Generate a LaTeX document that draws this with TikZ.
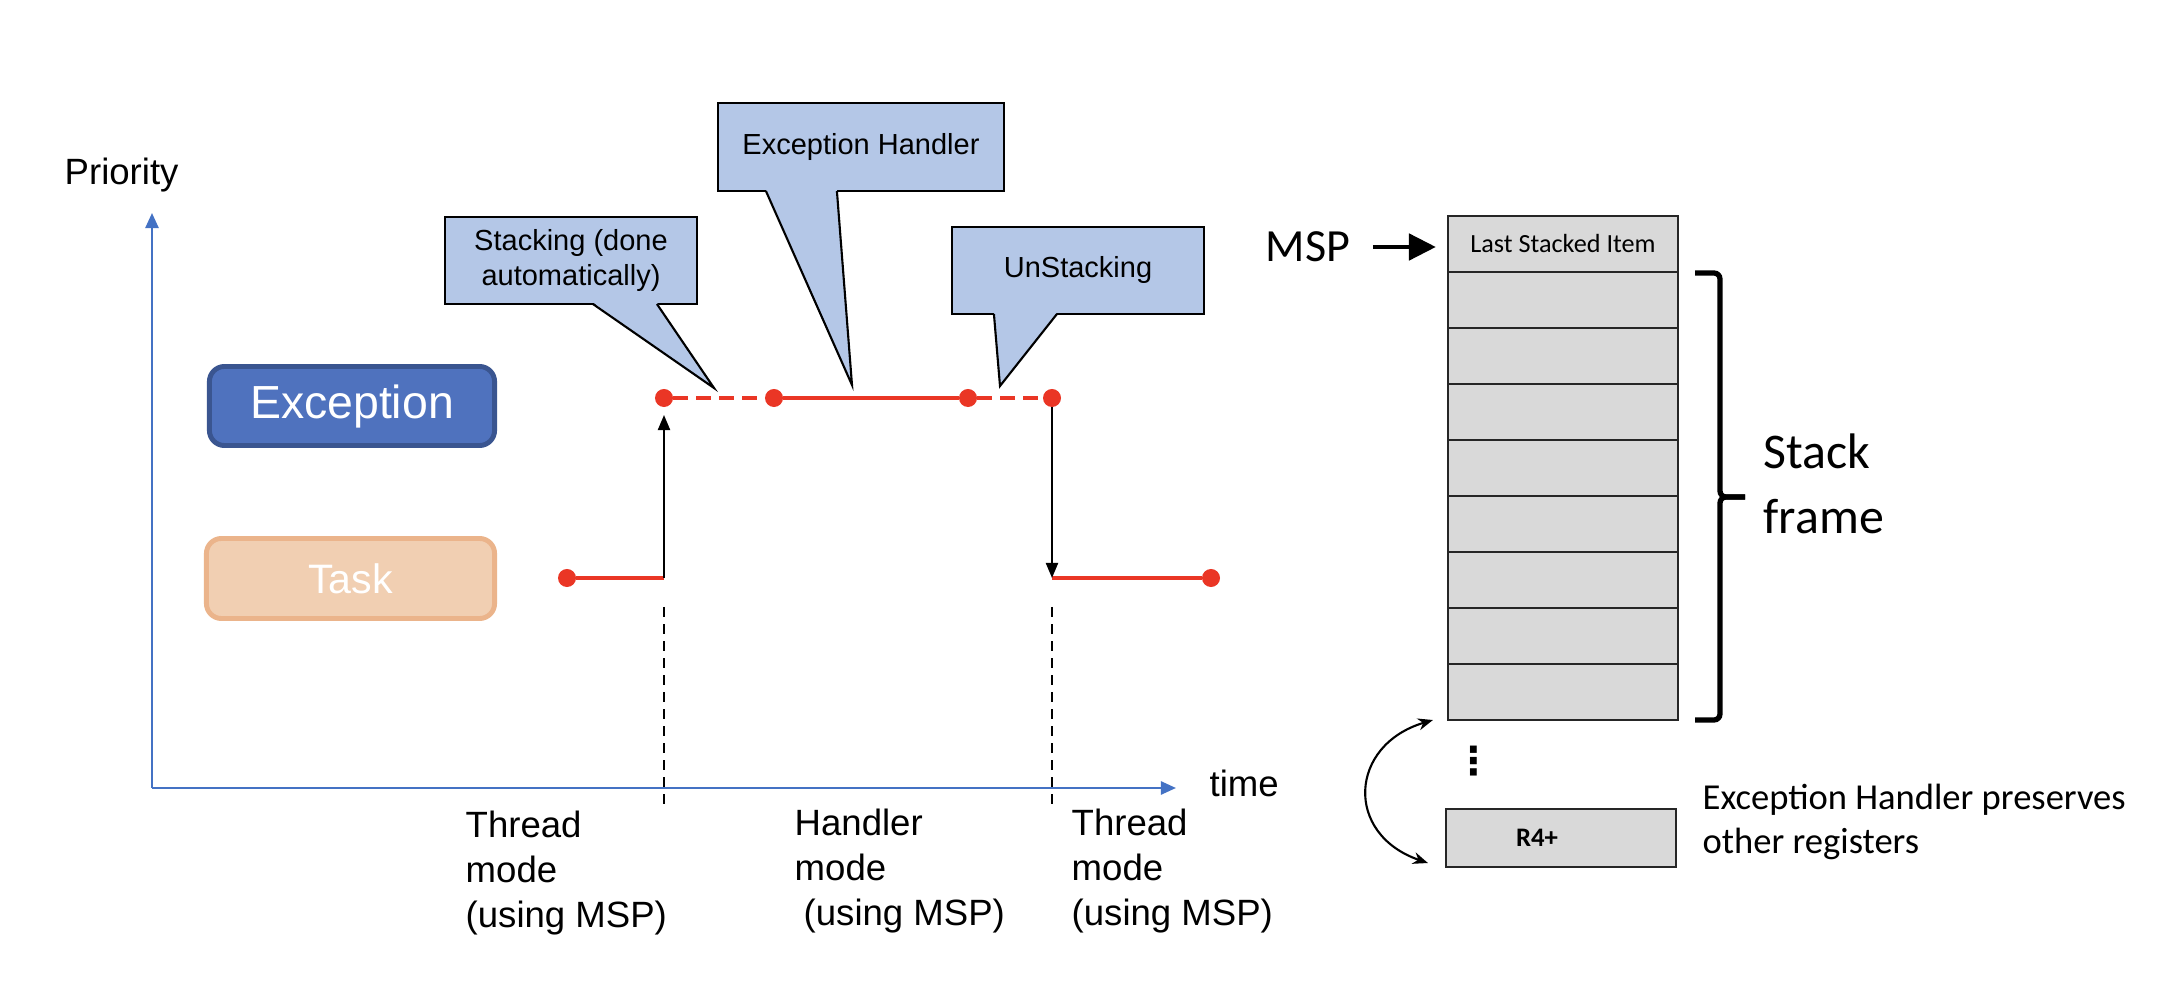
\documentclass[tikz,border=0pt]{standalone}
\usepackage{fontspec}
\setmainfont{Liberation Sans}
\newfontfamily\calibri{Carlito}
\newfontfamily\dejavu{DejaVu Sans}
\usetikzlibrary{arrows.meta,calc}
\definecolor{excblue}{RGB}{79,114,190}
\definecolor{excborder}{RGB}{58,85,144}
\definecolor{taskfill}{RGB}{241,207,178}
\definecolor{taskborder}{RGB}{235,180,139}
\definecolor{calloutblue}{RGB}{180,199,231}
\definecolor{axisblue}{RGB}{68,114,196}
\definecolor{levelred}{RGB}{234,54,37}
\definecolor{cellgray}{RGB}{217,217,217}
\tikzset{
    axisline/.style={draw=axisblue,line width=0.7pt,-{Triangle[length=0.15cm,width=0.13cm]}},
    axistitle/.style={inner sep=0pt,font=\fontsize{10.4}{12.8}\selectfont},
    levelbox/.style={rounded corners=0.15cm,minimum width=2.85cm,minimum height=0.79cm,line width=1.4pt,align=center,text=white,inner sep=0pt},
    excbox/.style={levelbox,fill=excblue,draw=excborder,font=\fontsize{13.2}{15}\selectfont},
    taskbox/.style={levelbox,minimum width=2.88cm,minimum height=0.8cm,fill=taskfill,draw=taskborder,font=\fontsize{11.7}{14}\selectfont},
    reddot/.style={circle,fill=levelred,minimum size=0.18cm,inner sep=0pt,outer sep=0pt},
    redline/.style={draw=levelred,line width=1.4pt},
    reddash/.style={redline,dash pattern=on 0.15cm off 0.08cm},
    switcharrow/.style={draw=black,line width=0.6pt,-{Triangle[length=0.15cm,width=0.12cm]}},
    modeline/.style={draw=black,line width=0.45pt,dash pattern=on 0.1cm off 0.07cm},
    modelabel/.style={align=left,anchor=north west,inner sep=0pt,font=\fontsize{10.4}{12.8}\selectfont},
    callout/.style={draw=black,fill=calloutblue,line width=0.6pt,minimum width=2.52cm,minimum height=0.87cm,inner sep=0pt,outer sep=0pt,align=center,font=\fontsize{8.25}{9.7}\selectfont},
    calloutline/.style={draw=black,line width=0.6pt},
    stackcell/.style={draw=black!85,fill=cellgray,line width=0.6pt,minimum width=2.3cm,minimum height=0.56cm,inner sep=0pt,outer sep=0pt,font=\calibri\fontsize{7.45}{9}\selectfont},
    msparrow/.style={draw=black,line width=1.4pt,-{Triangle[length=0.27cm,width=0.26cm]}},
    stackbrace/.style={draw=black,line width=1.5pt,rounded corners=0.06cm},
    stacktext/.style={align=left,anchor=north west,inner sep=0pt,font=\calibri\fontsize{14.2}{18.5}\selectfont},
    notetext/.style={align=left,anchor=north west,inner sep=0pt,font=\calibri\fontsize{10.4}{12.5}\selectfont},
    savearrow/.style={draw=black,line width=0.6pt,{Stealth[length=0.15cm,width=0.12cm]}-{Stealth[length=0.15cm,width=0.12cm]}}
}
\begin{document}
\begin{tikzpicture}[x=0.01cm,y=-0.01cm]
    \useasboundingbox (0,0) rectangle (2174,988);

    % Priority / time axes
    \coordinate (origin) at (152,788);
    \coordinate (ytip) at (152,213);
    \coordinate (xtip) at (1176,788);
    \draw[axisline] (origin) -- (ytip);
    \draw[axisline] (origin) -- (xtip);
    \node[axistitle,anchor=base west] (prioritytitle) at (64,185) {Priority};
    \node[axistitle,anchor=base west] (timetitle) at (1209,797) {time};

    % Priority levels
    \node[excbox] (exception) at (352,406) {Exception};
    \node[taskbox] (task) at (350.5,578.5) {Task};

    % Timeline of the task and the exception
    \node[reddot] (t1) at (567,578) {};
    \node[reddot] (t2) at (1211,578) {};
    \coordinate (tup) at (664,578);
    \coordinate (tdown) at (1052,578);
    \node[reddot] (e1) at (664,398) {};
    \node[reddot] (e2) at (774,398) {};
    \node[reddot] (e3) at (968,398) {};
    \node[reddot] (e4) at (1052,398) {};
    \draw[redline] (t1) -- (tup);
    \draw[reddash] (e1) -- (e2);
    \draw[redline] (e2) -- (e3);
    \draw[reddash] (e3) -- (e4);
    \draw[redline] (tdown) -- (t2);
    \draw[switcharrow,shorten >=0.08cm] (tup) -- (e1);
    \draw[switcharrow] (e4) -- (tdown);

    % Mode borders and labels
    \draw[modeline] (e1 |- 0,607) -- (e1 |- 0,810);
    \draw[modeline] (e4 |- 0,607) -- (e4 |- 0,810);
    \node[modelabel] (threadmode1) at (465,810) {Thread\\mode\\(using MSP)};
    \node[modelabel] (handlermode) at (794,808) {Handler\\mode\\\hspace*{0.09cm}(using MSP)};
    \node[modelabel] (threadmode2) at (1071,808) {Thread\\mode\\(using MSP)};

    % Callouts
    \node[callout] (stacking) at (571,260.5) {Stacking (done\\automatically)};
    \node[callout,minimum width=2.86cm,minimum height=0.88cm] (handler) at (861,147) {Exception Handler};
    \node[callout] (unstacking) at (1078,270.5) {UnStacking};
    \coordinate (stackingtip) at (714,388);
    \coordinate (handlertip) at (852,385);
    \coordinate (unstackingtip) at (1000,386);
    \foreach \callname/\a/\b in {stacking/148/212,handler/48/119,unstacking/42/105}{
        \fill[calloutblue] ($(\callname.south west)+(\a,-1.5)$) -- (\callname tip) -- ($(\callname.south west)+(\b,-1.5)$) -- cycle;
        \draw[calloutline] ($(\callname.south west)+(\a,0)$) -- (\callname tip) -- ($(\callname.south west)+(\b,0)$);
    }

    % Stack frame
    \node[stackcell] (cell0) at (1563,244) {Last Stacked Item};
    \foreach \i in {1,...,8}
        \node[stackcell] (cell\i) at (1563,{244+56*\i}) {};
    \node[inner sep=0pt,font=\calibri\fontsize{13.1}{15}\selectfont] (msp) at (1308,247) {MSP};
    \draw[msparrow,shorten <=0.22cm,shorten >=0.12cm] (msp.east) -- (msp.east -| cell0.west);
    \draw[stackbrace] (1695,273) -- (1720,273) -- (1720,497) -- (1745,497);
    \draw[stackbrace] (1745,497) -- (1720,497) -- (1720,720) -- (1695,720);
    \node[stacktext] (stackframe) at (1763,433) {Stack\\frame};

    % Saved registers
    \node[inner sep=0pt,font=\dejavu\bfseries\fontsize{11}{13}\selectfont] (moredots) at (1474,761) {⋮};
    \node[stackcell,minimum height=0.58cm,font=\calibri\bfseries\fontsize{7.6}{9}\selectfont] (r4) at (1561,838) {R4+\hspace*{0.48cm}};
    \coordinate (savetop) at ($(cell8.south west)+(-15,0)$);
    \coordinate (savebot) at ($(r4.south west)+(-18,-4)$);
    \draw[savearrow] (savetop) .. controls +(-84,25) and +(-84,-29) .. (savebot);
    \node[notetext] (preserves) at (1702,783) {Exception Handler preserves\\other registers};
\end{tikzpicture}
\end{document}
